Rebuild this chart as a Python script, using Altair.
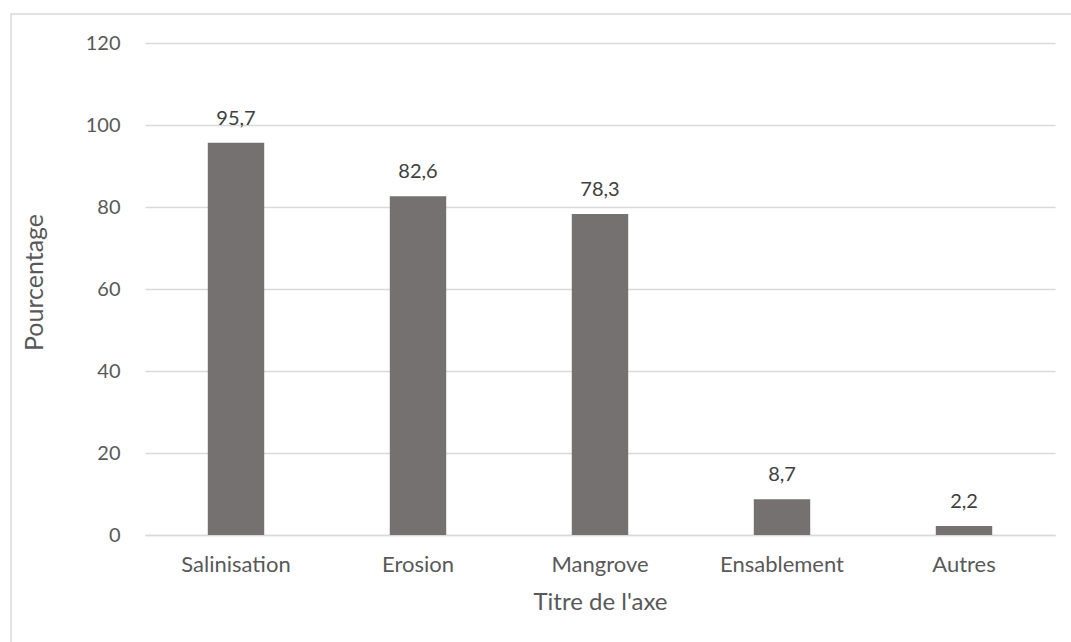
import altair as alt
import pandas as pd

categories = ["Salinisation", "Erosion", "Mangrove", "Ensablement", "Autres"]
values = [95.7, 82.6, 78.3, 8.7, 2.2]
y_ticks = [0, 20, 40, 60, 80, 100, 120]

df = pd.DataFrame({
    "cat": categories,
    "val": values,
    "lab": [f"{v:.1f}".replace(".", ",") for v in values],
})

FONT = "Lato"
TXT = "#595959"

base = alt.Chart(df)

x_enc = alt.X("cat:N", sort=categories, title="Titre de l'axe",
              scale=alt.Scale(paddingInner=0.69, paddingOuter=0.345))
y_enc = alt.Y("val:Q", title="Pourcentage",
              scale=alt.Scale(domain=[0, 120], nice=False),
              axis=alt.Axis(values=y_ticks, titleY=239, titleFontSize=25))

bars = base.mark_bar(color="#767171").encode(x=x_enc, y=y_enc)
labels = base.mark_text(baseline="alphabetic", dy=-18, font=FONT, fontSize=20, color="#404040").encode(
    x=alt.X("cat:N", sort=categories), y="val:Q", text="lab:N")

border = alt.Chart(pd.DataFrame({"a": [0]})).mark_rect(
    fill=None, stroke="#d9d9d9", strokeWidth=1.5).encode(
    x=alt.value(-134), x2=alt.value(935), y=alt.value(-29), y2=alt.value(607))

chart = alt.layer(border, bars, labels).properties(
    width=910, height=492,
    background="white",
    autosize=alt.AutoSizeParams(type="none"),
    padding={"left": 145, "top": 43, "right": 16, "bottom": 107},
).configure_view(strokeWidth=0, stroke="transparent").configure_axis(
    labelFont=FONT, labelColor=TXT, titleFont=FONT, titleColor=TXT,
    titleFontWeight="normal", ticks=False, titleFontSize=24,
).configure_axisX(
    labelAngle=0, labelFontSize=22, labelPadding=19, titlePadding=15,
    domainColor="#d9d9d9", domainWidth=1.3, grid=False,
).configure_axisY(
    labelFontSize=20, labelPadding=25, titlePadding=38, domain=False,
    gridColor="#d9d9d9", gridWidth=1.3,
)

chart.save("out.html", embed_options={"renderer": "svg", "actions": False})
